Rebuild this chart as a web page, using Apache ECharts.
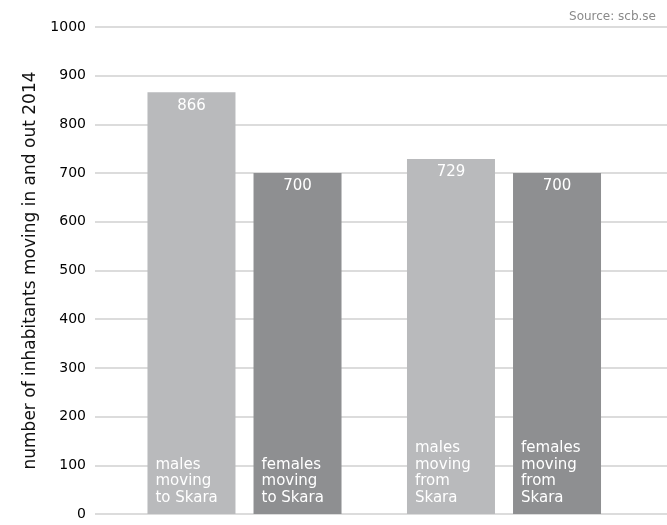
<!DOCTYPE html>
<html>
<head>
<meta charset="utf-8">
<script src="https://cdn.jsdelivr.net/npm/echarts@6/dist/echarts.min.js"></script>
<style>
html,body{margin:0;padding:0;background:#fff;}
#chart{width:667px;height:525px;}
</style>
</head>
<body>
<div id="chart"></div>
<script>
var groups = ['to Skara', 'from Skara'];
var malesValues = [866, 729];
var femalesValues = [700, 700];
var malesText = ['males\nmoving\nto Skara', 'males\nmoving\nfrom\nSkara'];
var femalesText = ['females\nmoving\nto Skara', 'females\nmoving\nfrom\nSkara'];
var yTicks = [0, 100, 200, 300, 400, 500, 600, 700, 800, 900, 1000];
var yTitle = 'number of inhabitants moving in and out 2014';
var sourceText = 'Source: scb.se';

var FONT = 'DejaVu Sans';
var LIGHT = '#b9babc';
var DARK = '#8e8f91';

var chart = echarts.init(document.getElementById('chart'));
var valueLabel = {
  show: true, position: 'insideTop', distance: 6,
  color: '#fff', fontFamily: FONT, fontSize: 15
};
function textLabel(arr) {
  return {
    show: true, position: 'insideBottomLeft', distance: 8,
    color: '#fff', fontFamily: FONT, fontSize: 15, lineHeight: 16.5,
    align: 'left',
    formatter: function (p) { return arr[p.dataIndex]; }
  };
}
chart.setOption({
  animation: false,
  title: {
    text: sourceText, right: 6, top: 6,
    textStyle: { fontFamily: FONT, fontSize: 12, fontWeight: 'normal', color: '#8a8a8a' }
  },
  grid: [
    { left: 95, right: 0, top: 27, bottom: 11 },
    { left: 114.75, right: 33.25, top: 27, bottom: 11 }
  ],
  xAxis: [
    { gridIndex: 0, type: 'category', data: groups, show: false },
    { gridIndex: 1, type: 'category', data: groups, show: false },
    { gridIndex: 1, type: 'category', data: groups, show: false }
  ],
  yAxis: [
    {
      gridIndex: 0, type: 'value', min: yTicks[0], max: yTicks[yTicks.length - 1], interval: 100,
      name: yTitle, nameLocation: 'middle', nameGap: 44, nameRotate: 90,
      nameTextStyle: { fontFamily: FONT, fontSize: 17, color: '#111' },
      axisLine: { show: false }, axisTick: { show: false },
      axisLabel: { margin: 9, fontFamily: FONT, fontSize: 14, color: '#000',
        formatter: function (v) { return String(v); } },
      splitLine: { lineStyle: { color: '#dcdcdc', width: 2 } }
    },
    {
      gridIndex: 1, type: 'value', min: yTicks[0], max: yTicks[yTicks.length - 1], show: false,
      splitLine: { show: false }
    }
  ],
  series: [
    {
      type: 'bar', xAxisIndex: 1, yAxisIndex: 1, data: malesValues,
      barWidth: 88, barGap: '20.5%',
      itemStyle: { color: LIGHT }, label: valueLabel
    },
    {
      type: 'bar', xAxisIndex: 1, yAxisIndex: 1, data: femalesValues,
      barWidth: 88, barGap: '20.5%',
      itemStyle: { color: DARK }, label: valueLabel
    },
    {
      type: 'bar', xAxisIndex: 2, yAxisIndex: 1, data: malesValues,
      barWidth: 88, barGap: '20.5%', silent: true,
      itemStyle: { color: 'rgba(0,0,0,0)' }, label: textLabel(malesText)
    },
    {
      type: 'bar', xAxisIndex: 2, yAxisIndex: 1, data: femalesValues,
      barWidth: 88, barGap: '20.5%', silent: true,
      itemStyle: { color: 'rgba(0,0,0,0)' }, label: textLabel(femalesText)
    }
  ]
});
</script>
</body>
</html>
